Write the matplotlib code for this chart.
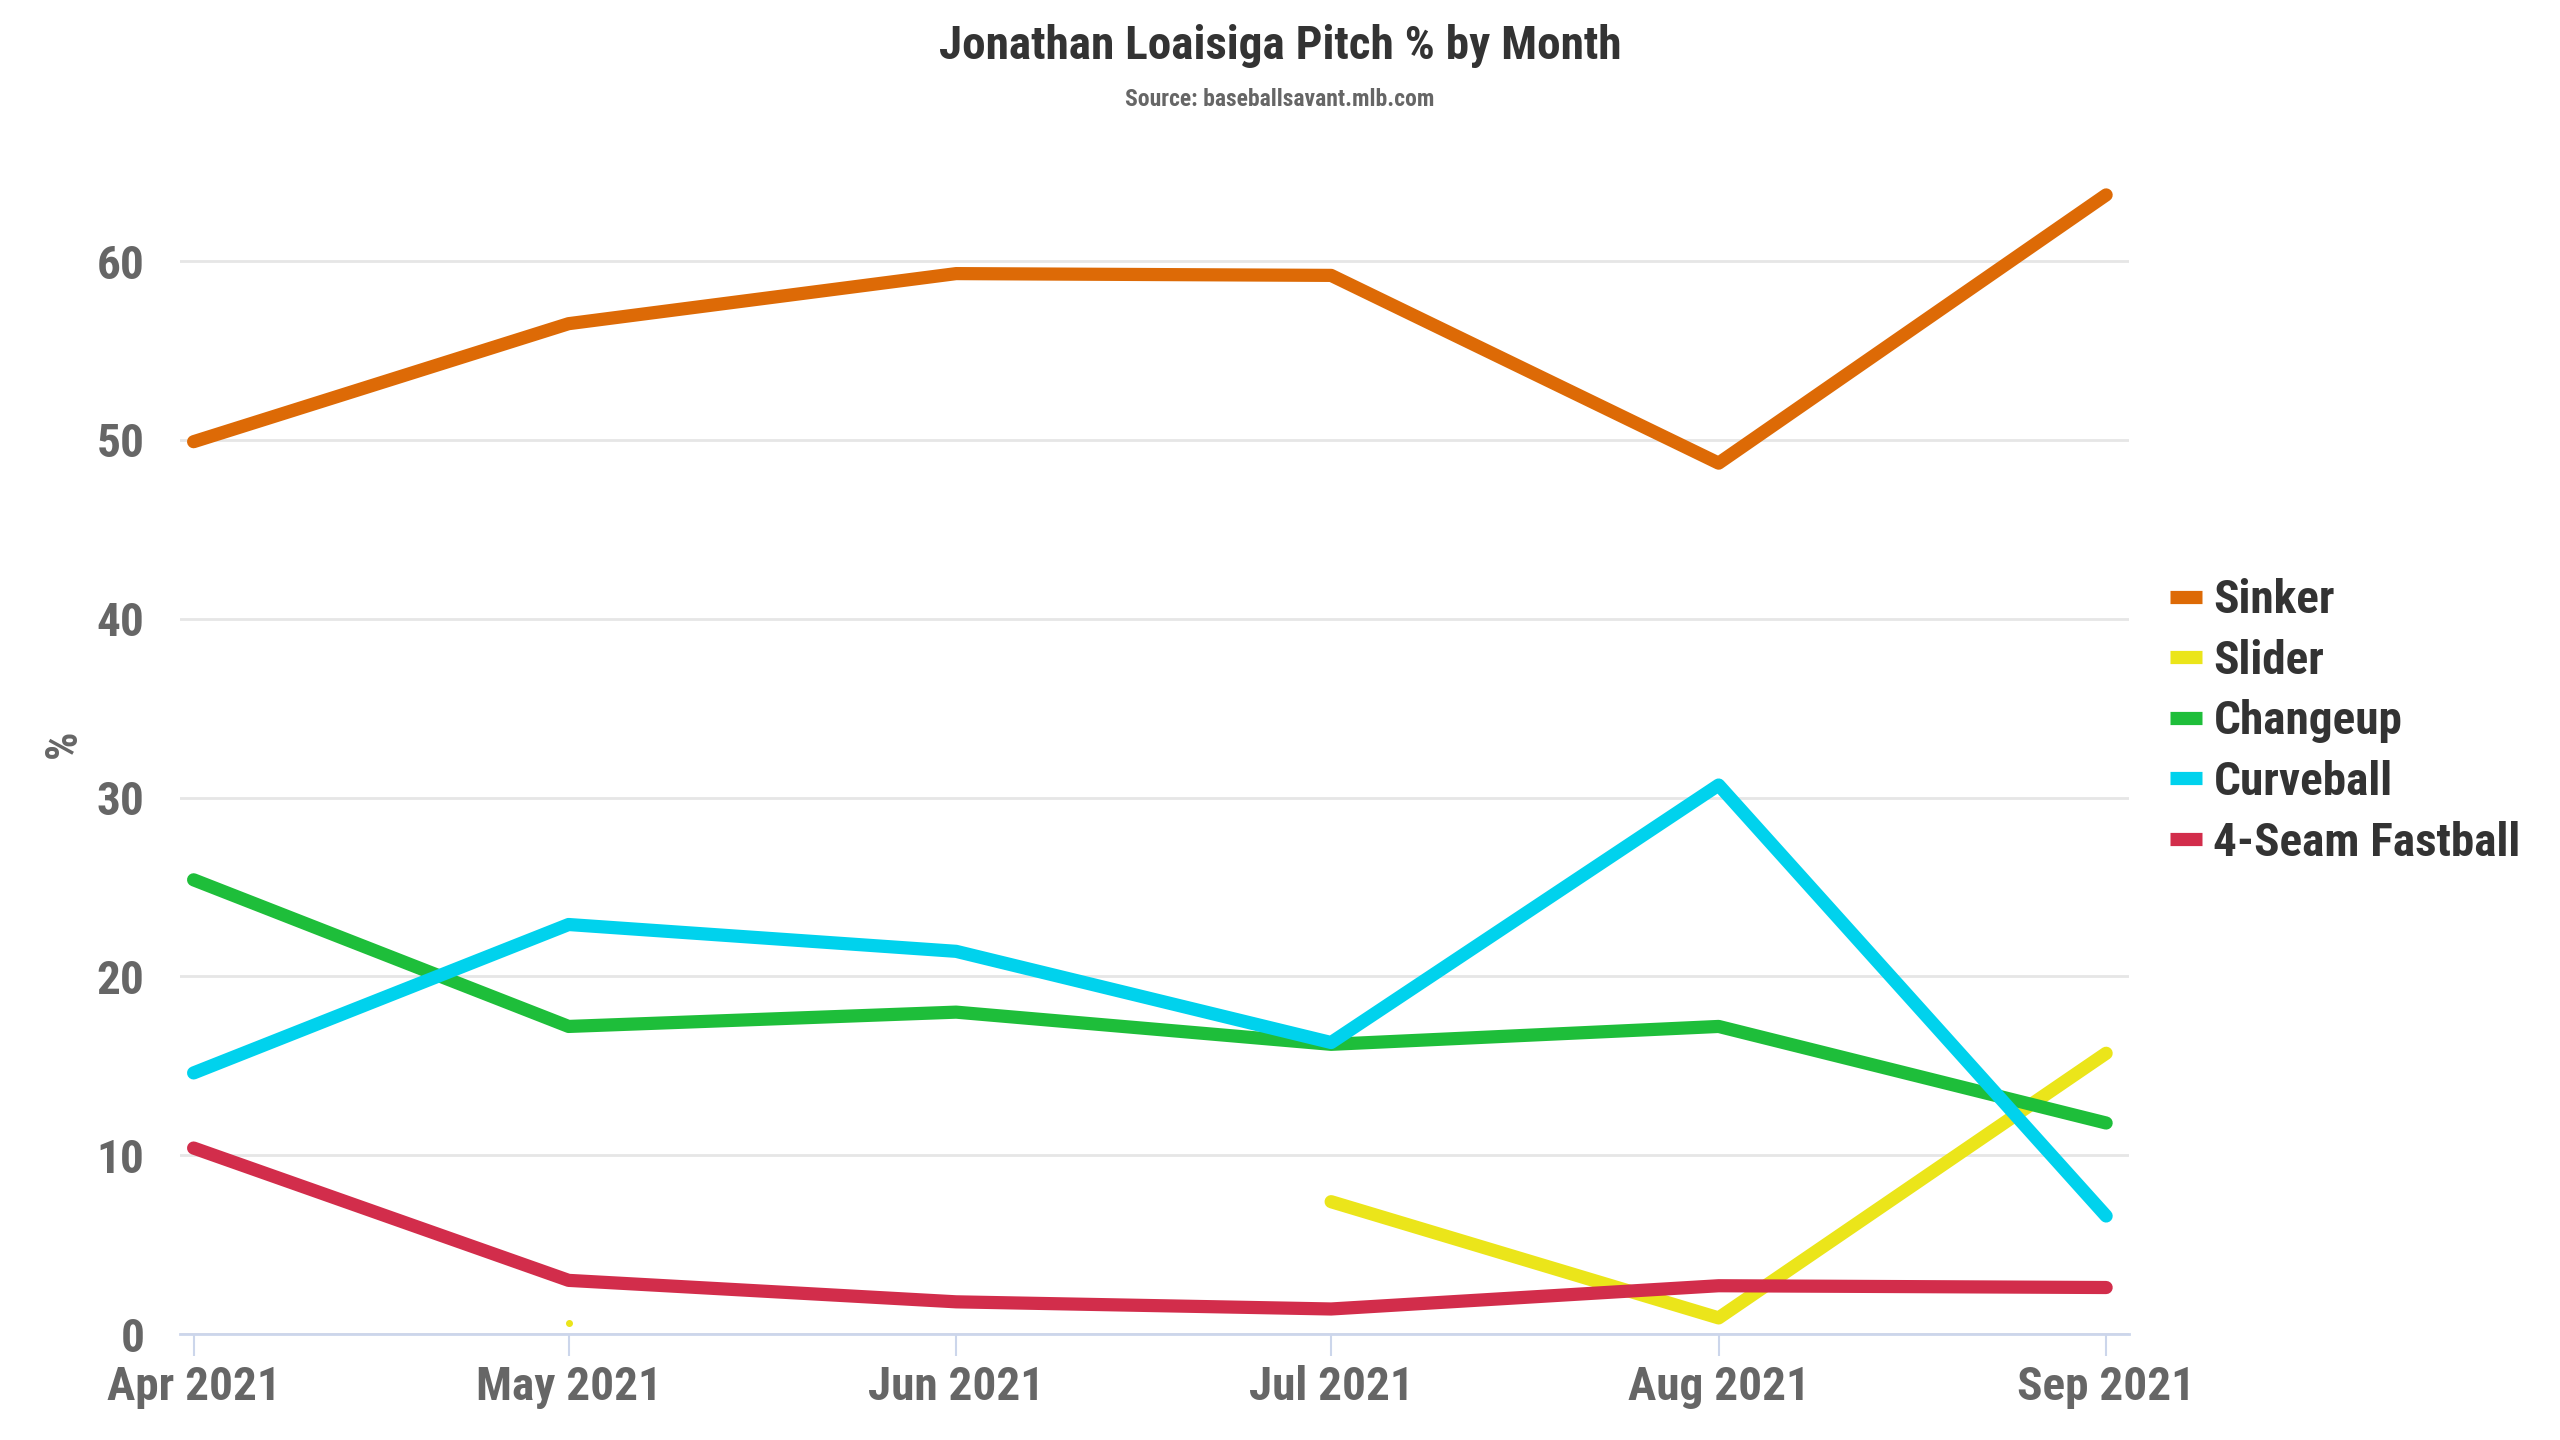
import numpy as np
import matplotlib
matplotlib.use("Agg")
import matplotlib.pyplot as plt
from datetime import datetime, timedelta

# -------------------- data --------------------
months = ["2021-04-01", "2021-05-01", "2021-06-01", "2021-07-01", "2021-08-01", "2021-09-01"]
month_labels = ["Apr 2021", "May 2021", "Jun 2021", "Jul 2021", "Aug 2021", "Sep 2021"]

sinker = [49.9, 56.5, 59.3, 59.2, 48.7, 63.7]
slider = [np.nan, 0.6, np.nan, 7.4, 0.9, 15.7]
changeup = [25.4, 17.2, 18.0, 16.2, 17.2, 11.8]
curveball = [14.6, 22.9, 21.4, 16.3, 30.7, 6.6]
fastball = [10.4, 3.0, 1.8, 1.4, 2.7, 2.6]

series_names = ["Sinker", "Slider", "Changeup", "Curveball", "4-Seam Fastball"]
series_values = [sinker, slider, changeup, curveball, fastball]
series_colors = ["#dd6a06", "#ebe51a", "#1ebe3a", "#00d2ed", "#d22d4b"]

y_ticks = [0, 10, 20, 30, 40, 50, 60]
# ------------------------------------------------------------------

plt.rcParams['font.family'] = ['Roboto Condensed', 'Liberation Sans Narrow', 'Roboto', 'DejaVu Sans']
plt.rcParams['font.weight'] = 'bold'

dates = [datetime.strptime(m, "%Y-%m-%d") for m in months]

fig = plt.figure(figsize=(25.6, 14.4), dpi=100)
ax = fig.add_axes([0.0705, 0.0736, 0.761, 0.8196])

for name, vals, col in zip(series_names, series_values, series_colors):
    vals = np.array(vals, dtype=float)
    ax.plot(dates, vals, color=col, lw=9.5, solid_capstyle='round',
            solid_joinstyle='round', label=name, zorder=3)
    # isolated points (no neighbour on either side) drawn as a tiny dot
    for i, v in enumerate(vals):
        if np.isnan(v):
            continue
        left = i > 0 and not np.isnan(vals[i - 1])
        right = i < len(vals) - 1 and not np.isnan(vals[i + 1])
        if not left and not right:
            ax.plot(dates[i], v, 'o', color=col, ms=4, zorder=3)

# axes styling
ax.set_xlim(dates[0] - timedelta(days=1.05), dates[-1] + timedelta(days=1.8))
ax.set_ylim(0, 66)
ax.set_yticks(y_ticks)
ax.set_yticklabels([str(t) for t in y_ticks])
ax.set_xticks(dates)
ax.set_xticklabels(month_labels)

ax.grid(axis='y', color='#e6e6e6', lw=2, zorder=0)
ax.set_axisbelow(True)
for side in ['top', 'right', 'left']:
    ax.spines[side].set_visible(False)
ax.spines['bottom'].set_color('#ccd6eb')
ax.spines['bottom'].set_linewidth(2)

ax.tick_params(axis='x', colors='#ccd6eb', length=16, width=1.5, pad=6,
               labelsize=34, labelcolor='#666666')
ax.tick_params(axis='y', length=0, pad=26, labelsize=34, labelcolor='#666666')

ax.set_ylabel('%', fontsize=32, color='#666666', labelpad=8, fontweight='bold')

# title and source
fig.text(0.5, 0.983, 'Jonathan Loaisiga Pitch % by Month', ha='center', va='top',
         fontsize=34, color='#333333', fontweight='bold')
fig.text(0.5, 0.939, 'Source: baseballsavant.mlb.com', ha='center', va='top',
         fontsize=17, color='#666666', fontweight='bold')

leg = ax.legend(loc='center left', bbox_to_anchor=(1.021, 0.519), frameon=False,
                fontsize=34, handlelength=0.68, handletextpad=0.25, labelspacing=0.35,
                borderaxespad=0, borderpad=0)
for h in leg.get_lines():
    h.set_linewidth(9.5)
    h.set_solid_capstyle('butt')
for t in leg.get_texts():
    t.set_color('#333333')

fig.savefig('out.png', dpi=100)
